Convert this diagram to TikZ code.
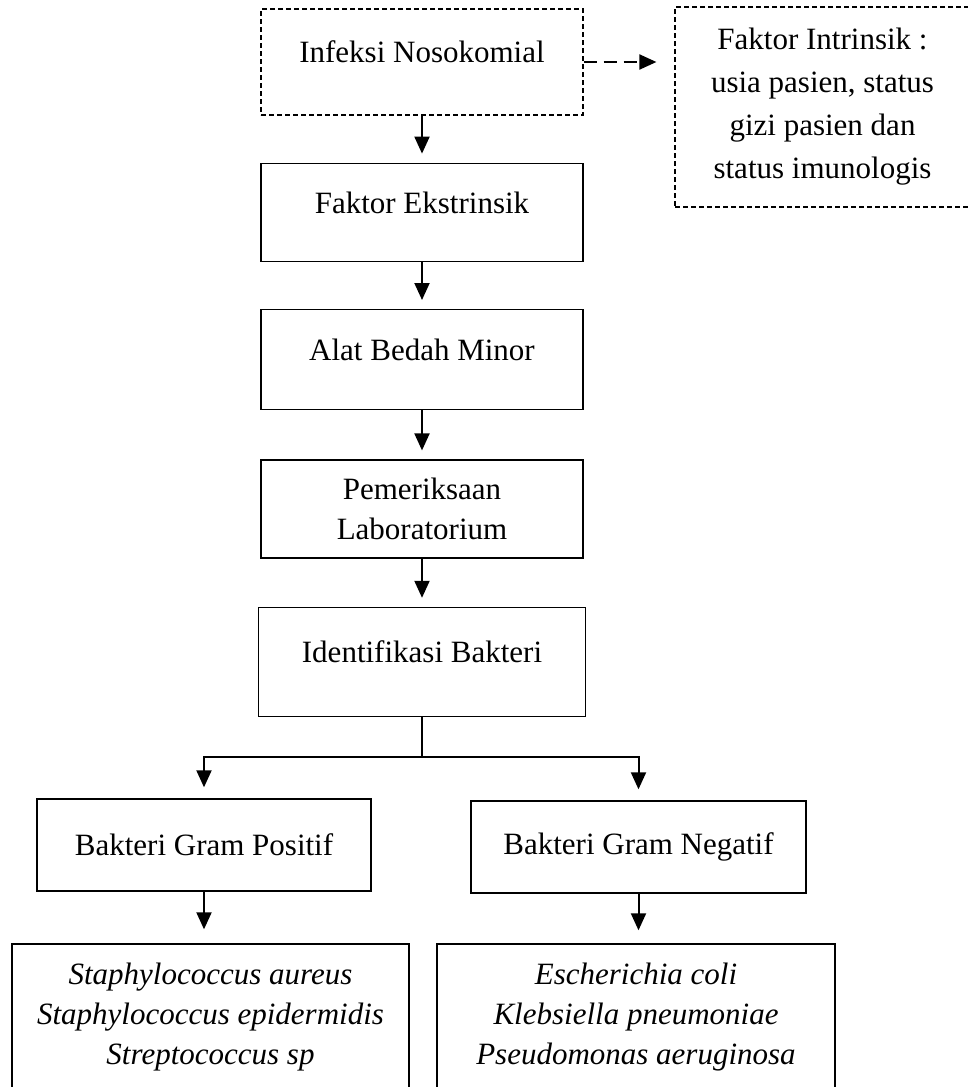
\documentclass[tikz,border=0pt]{standalone}
\usepackage{fontspec}
\setmainfont{Liberation Serif}
\usetikzlibrary{positioning,arrows.meta,calc}

\begin{document}
\begin{tikzpicture}[x=1pt,y=1pt,
    box/.style={draw, line width=1.4pt, minimum width=322pt, minimum height=98pt,
      inner sep=0pt, align=center, font=\fontsize{31}{40}\selectfont},
    dbox/.style={box, line width=1.2pt, dash pattern=on 5pt off 3pt},
    up/.style={text depth=20pt},
    arr/.style={-{Triangle[length=17pt,width=15pt]}, line width=2pt, shorten >=9pt},
  ]
  \useasboundingbox (0,0) rectangle (968,-1087);

  \node[dbox, up, minimum height=106pt] (infeksi) at (422,-62) {Infeksi Nosokomial};
  \node[dbox, minimum width=295pt, minimum height=200pt, font=\fontsize{31}{43}\selectfont]
    (intrinsik) at (822.5,-107) {Faktor Intrinsik :\\usia pasien, status\\gizi pasien dan\\status imunologis};
  \node[box, up, below=47pt of infeksi] (ekstrinsik) {Faktor Ekstrinsik};
  \node[box, up, minimum height=100pt, below=47pt of ekstrinsik] (alat) {Alat Bedah Minor};
  \node[box, below=49pt of alat] (lab) {Pemeriksaan\\Laboratorium};
  \node[box, up, minimum width=327pt, minimum height=109pt, below=48pt of lab] (identifikasi) {Identifikasi Bakteri};
  \node[box, minimum width=334pt, minimum height=92pt] (positif) at (204,-845) {Bakteri Gram Positif};
  \node[box, minimum width=335pt, minimum height=92pt] (negatif) at (638.5,-847) {Bakteri Gram Negatif};
  \node[box, minimum width=397pt, minimum height=146pt, font=\fontsize{31}{40}\selectfont\itshape]
    (gpositif) at (210.5,-1017) {Staphylococcus aureus\\Staphylococcus epidermidis\\Streptococcus sp};
  \node[box, minimum width=398pt, minimum height=146pt, font=\fontsize{31}{40}\selectfont\itshape]
    (gnegatif) at (636,-1017) {Escherichia coli\\Klebsiella pneumoniae\\Pseudomonas aeruginosa};

  \draw[arr, dash pattern=on 13pt off 7pt, shorten >=18pt] (infeksi.east) -- (infeksi.east -| intrinsik.west);
  \draw[arr] (infeksi) -- (ekstrinsik);
  \draw[arr] (ekstrinsik) -- (alat);
  \draw[arr] (alat) -- (lab);
  \draw[arr] (lab) -- (identifikasi);
  \draw[line width=2pt] (identifikasi.south) -- ++(0,-40) coordinate (cabang);
  \draw[arr, shorten >=11pt] (cabang) -| (positif);
  \draw[arr, shorten >=11pt] (cabang) -| (negatif);
  \draw[arr, shorten >=14pt] (positif.south) -- (positif.south |- gpositif.north);
  \draw[arr, shorten >=13pt] (negatif.south) -- (negatif.south |- gnegatif.north);
\end{tikzpicture}
\end{document}
